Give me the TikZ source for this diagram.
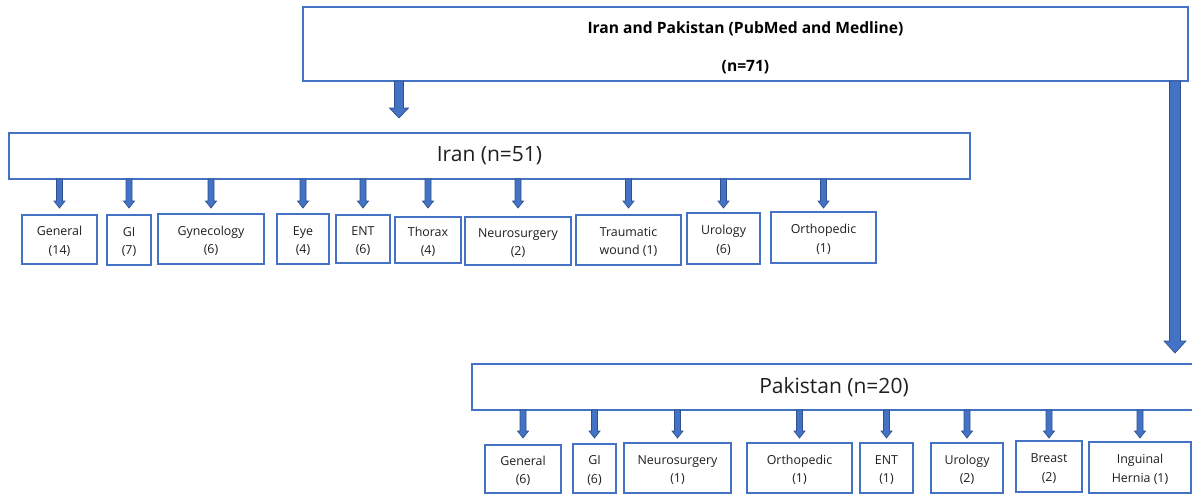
\documentclass[tikz,border=0pt]{standalone}
\usepackage{fontspec}
\setmainfont{Open Sans}
\usetikzlibrary{calc}
\definecolor{boxblue}{HTML}{4472C4}
\definecolor{arrowedge}{HTML}{2F528F}
\tikzset{
  sbox/.style={draw=boxblue, line width=1.4pt, fill=white, inner sep=0pt, outer sep=0pt,
    align=center, font=\fontsize{12.4}{18.5}\selectfont, text=black!88},
  bigbox/.style={draw=boxblue, line width=1.4pt, fill=white, inner sep=0pt, outer sep=0pt,
    align=center, font=\fontsize{21}{25}\selectfont, text=black!88},
  topbox/.style={draw=boxblue, line width=1.4pt, fill=white, inner sep=0pt, outer sep=0pt,
    align=center, font=\fontsize{15.6}{38}\selectfont\bfseries, text=black},
  blockarrow/.style={fill=boxblue, draw=arrowedge, line width=0.7pt, line join=miter}
}
% box: name, x1, x2, top, bottom, text, style
\newcommand{\bx}[7]{\node[#7, minimum width=#3pt-#2pt, minimum height=#5pt-#4pt, anchor=north west] (#1) at (#2,#4) {#6};}
% block arrow: from, to, half shaft, half head, head length
\newcommand{\blk}[5]{\filldraw[blockarrow] let \p1=#1, \p2=#2 in
  (\x1-#3,\y1) -- (\x1-#3,\y2+#5) -- (\x1-#4,\y2+#5) -- (\x1,\y2) --
  (\x1+#4,\y2+#5) -- (\x1+#3,\y2+#5) -- (\x1+#3,\y1) -- cycle;}
\begin{document}
\begin{tikzpicture}[x=1pt,y=-1pt]
\useasboundingbox[fill=white] (0,0) rectangle (1192,495);
% main boxes
\bx{top}{303}{1188}{7}{81}{\rule{0pt}{20pt}Iran and Pakistan (PubMed and Medline)\\(n=71)}{topbox}
\bx{iran}{9}{970}{133}{179}{Iran (n=51)}{bigbox}
\bx{pak}{472}{1196}{364}{410}{Pakistan (n=20)}{bigbox}
% Iran categories
\bx{ige}{22}{97}{215}{264}{\rule{0pt}{13pt}General\\(14)}{sbox}
\bx{igi}{107}{151}{215}{265}{\rule{0pt}{13pt}GI\\(7)}{sbox}
\bx{igy}{158}{264}{214}{264}{\rule{0pt}{13pt}Gynecology\\(6)}{sbox}
\bx{iey}{277}{329}{214}{264}{\rule{0pt}{13pt}Eye\\(4)}{sbox}
\bx{ien}{336}{390}{215}{263}{\rule{0pt}{13pt}ENT\\(6)}{sbox}
\bx{ith}{395}{461}{217}{263}{\rule{0pt}{13pt}Thorax\\(4)}{sbox}
\bx{ine}{465}{571}{217}{265}{\rule{0pt}{13pt}Neurosurgery\\(2)}{sbox}
\bx{itr}{576}{681}{215}{265}{\rule{0pt}{13pt}Traumatic\\wound (1)}{sbox}
\bx{iur}{687}{760}{213}{264}{\rule{0pt}{13pt}Urology\\(6)}{sbox}
\bx{ior}{771}{876}{212}{263}{\rule{0pt}{13pt}Orthopedic\\(1)}{sbox}
% Pakistan categories
\bx{pge}{485}{561}{445}{493}{\rule{0pt}{13pt}General\\(6)}{sbox}
\bx{pgi}{573}{616}{444}{493}{\rule{0pt}{13pt}GI\\(6)}{sbox}
\bx{pne}{624}{731}{443}{493}{\rule{0pt}{13pt}Neurosurgery\\(1)}{sbox}
\bx{por}{747}{852}{443}{493}{\rule{0pt}{13pt}Orthopedic\\(1)}{sbox}
\bx{pen}{860}{913}{443}{493}{\rule{0pt}{13pt}ENT\\(1)}{sbox}
\bx{pur}{931}{1003}{443}{493}{\rule{0pt}{13pt}Urology\\(2)}{sbox}
\bx{pbr}{1016}{1082}{441}{492}{\rule{0pt}{13pt}Breast\\(2)}{sbox}
\bx{pin}{1089}{1191}{442}{493}{\rule{0pt}{13pt}Inguinal\\Hernia (1)}{sbox}
% helper coordinates
\coordinate (xiran) at (399,0);
\coordinate (xpak) at (1175,0);
\coordinate (itip) at (0,208);
\coordinate (ptip) at (0,438);
% main arrows
\blk{(top.south -| xiran)}{([yshift=15pt]iran.north -| xiran)}{4.5pt}{9.5pt}{10pt}
\blk{(top.south -| xpak)}{([yshift=11pt]pak.north -| xpak)}{5.5pt}{11pt}{12pt}
% Iran arrows
\foreach \k in {ige,igi,igy,iey,ien,ith,ine,itr,iur,ior}{
  \blk{(\k.north |- iran.south)}{(\k.north |- itip)}{3pt}{5.5pt}{7pt}
}
% Pakistan arrows
\foreach \k in {pge,pgi,pne,por,pen,pur,pbr,pin}{
  \blk{(\k.north |- pak.south)}{(\k.north |- ptip)}{3pt}{5.5pt}{7pt}
}
\end{tikzpicture}
\end{document}
